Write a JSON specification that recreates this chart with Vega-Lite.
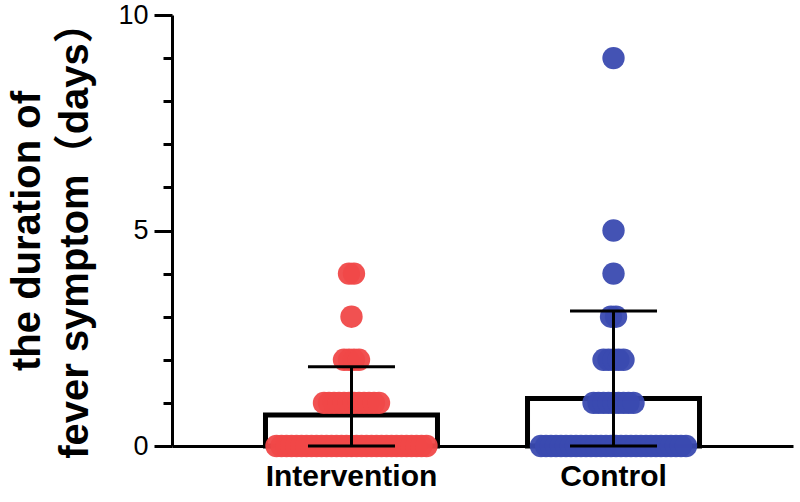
{
  "$schema": "https://vega.github.io/schema/vega-lite/v6.json",
  "autosize": {"type": "none"},
  "width": 621,
  "height": 431,
  "padding": {"left": 172, "top": 15, "right": 7, "bottom": 56},
  "background": "white",
  "config": {
    "font": "Liberation Sans, Arial, Noto Sans CJK SC, sans-serif",
    "view": {"stroke": null}
  },
  "datasets": {
    "summary": [
      {"g": "Intervention", "mean": 0.72, "lo": 0, "hi": 1.84},
      {"g": "Control", "mean": 1.1, "lo": 0, "hi": 3.13}
    ],
    "points": [
      {"g":"Intervention","d":0},{"g":"Intervention","d":0},{"g":"Intervention","d":0},{"g":"Intervention","d":0},{"g":"Intervention","d":0},
      {"g":"Intervention","d":0},{"g":"Intervention","d":0},{"g":"Intervention","d":0},{"g":"Intervention","d":0},{"g":"Intervention","d":0},
      {"g":"Intervention","d":0},{"g":"Intervention","d":0},{"g":"Intervention","d":0},{"g":"Intervention","d":0},{"g":"Intervention","d":0},
      {"g":"Intervention","d":0},{"g":"Intervention","d":0},{"g":"Intervention","d":0},{"g":"Intervention","d":0},{"g":"Intervention","d":0},
      {"g":"Intervention","d":0},{"g":"Intervention","d":0},{"g":"Intervention","d":0},{"g":"Intervention","d":0},{"g":"Intervention","d":0},
      {"g":"Intervention","d":0},{"g":"Intervention","d":0},{"g":"Intervention","d":0},{"g":"Intervention","d":0},{"g":"Intervention","d":0},
      {"g":"Intervention","d":0},
      {"g":"Intervention","d":1},{"g":"Intervention","d":1},{"g":"Intervention","d":1},{"g":"Intervention","d":1},{"g":"Intervention","d":1},
      {"g":"Intervention","d":1},{"g":"Intervention","d":1},{"g":"Intervention","d":1},{"g":"Intervention","d":1},{"g":"Intervention","d":1},
      {"g":"Intervention","d":1},{"g":"Intervention","d":1},
      {"g":"Intervention","d":2},{"g":"Intervention","d":2},{"g":"Intervention","d":2},{"g":"Intervention","d":2},
      {"g":"Intervention","d":3},
      {"g":"Intervention","d":4},{"g":"Intervention","d":4},
      {"g":"Control","d":0},{"g":"Control","d":0},{"g":"Control","d":0},{"g":"Control","d":0},{"g":"Control","d":0},
      {"g":"Control","d":0},{"g":"Control","d":0},{"g":"Control","d":0},{"g":"Control","d":0},{"g":"Control","d":0},
      {"g":"Control","d":0},{"g":"Control","d":0},{"g":"Control","d":0},{"g":"Control","d":0},{"g":"Control","d":0},
      {"g":"Control","d":0},{"g":"Control","d":0},{"g":"Control","d":0},{"g":"Control","d":0},{"g":"Control","d":0},
      {"g":"Control","d":0},{"g":"Control","d":0},{"g":"Control","d":0},{"g":"Control","d":0},{"g":"Control","d":0},
      {"g":"Control","d":0},{"g":"Control","d":0},{"g":"Control","d":0},{"g":"Control","d":0},{"g":"Control","d":0},
      {"g":"Control","d":1},{"g":"Control","d":1},{"g":"Control","d":1},{"g":"Control","d":1},{"g":"Control","d":1},
      {"g":"Control","d":1},{"g":"Control","d":1},{"g":"Control","d":1},{"g":"Control","d":1},
      {"g":"Control","d":2},{"g":"Control","d":2},{"g":"Control","d":2},{"g":"Control","d":2},{"g":"Control","d":2},
      {"g":"Control","d":3},{"g":"Control","d":3},
      {"g":"Control","d":4},
      {"g":"Control","d":5},
      {"g":"Control","d":9}
    ]
  },
  "encoding": {
    "x": {
      "field": "g", "type": "nominal", "sort": ["Intervention", "Control"],
      "scale": {"paddingInner": 0.332, "paddingOuter": 0.351},
      "axis": {
        "title": null, "labelAngle": 0, "labelFontSize": 30, "labelFontWeight": "bold",
        "labelColor": "black", "labelPadding": 5, "tickSize": 10, "tickWidth": 3,
        "tickColor": "black", "domainWidth": 3, "domainColor": "black"
      }
    }
  },
  "layer": [
    {
      "data": {"name": "summary"},
      "mark": {"type": "bar", "fill": "white", "stroke": "black", "strokeWidth": 5, "width": 172},
      "encoding": {
        "y": {
          "field": "mean", "type": "quantitative",
          "scale": {"domain": [0, 10], "nice": false},
          "axis": {
            "values": [0, 1, 2, 3, 4, 5, 6, 7, 8, 9, 10],
            "labelExpr": "datum.value % 5 === 0 ? datum.label : ''",
            "tickSize": {"condition": {"test": "datum.value % 5 === 0", "value": 18}, "value": 9},
            "tickWidth": 3, "tickColor": "black", "domainWidth": 3, "domainColor": "black",
            "grid": false, "labelFontSize": 27, "labelColor": "black", "labelPadding": 6,
            "title": ["the duration of", "fever symptom（days）"],
            "titleFontSize": 40, "titleFontWeight": "bold", "titleColor": "black",
            "titleLineHeight": 48, "titlePadding": 22
          }
        }
      }
    },
    {
      "data": {"name": "points"},
      "transform": [
        {"window": [{"op": "row_number", "as": "k"}], "groupby": ["g", "d"]},
        {"joinaggregate": [{"op": "count", "as": "cnt"}], "groupby": ["g", "d"]},
        {"calculate": "datum.k - (datum.cnt + 1) / 2", "as": "slot"}
      ],
      "mark": {"type": "circle", "size": 500, "opacity": 0.95},
      "encoding": {
        "xOffset": {"field": "slot", "type": "quantitative", "scale": {"domain": [-17.5, 17.5]}},
        "y": {"field": "d", "type": "quantitative"},
        "color": {
          "field": "g", "type": "nominal",
          "scale": {"domain": ["Intervention", "Control"], "range": ["#F04848", "#3A4AB0"]},
          "legend": null
        }
      }
    },
    {
      "data": {"name": "summary"},
      "mark": {"type": "rule", "color": "black", "strokeWidth": 3},
      "encoding": {
        "y": {"field": "lo", "type": "quantitative"},
        "y2": {"field": "hi"}
      }
    },
    {
      "data": {"name": "summary"},
      "mark": {"type": "tick", "color": "black", "opacity": 1, "thickness": 3, "size": 87, "orient": "horizontal"},
      "encoding": {"y": {"field": "hi", "type": "quantitative"}}
    },
    {
      "data": {"name": "summary"},
      "mark": {"type": "tick", "color": "black", "opacity": 1, "thickness": 3, "size": 87, "orient": "horizontal"},
      "encoding": {"y": {"field": "lo", "type": "quantitative"}}
    }
  ]
}
